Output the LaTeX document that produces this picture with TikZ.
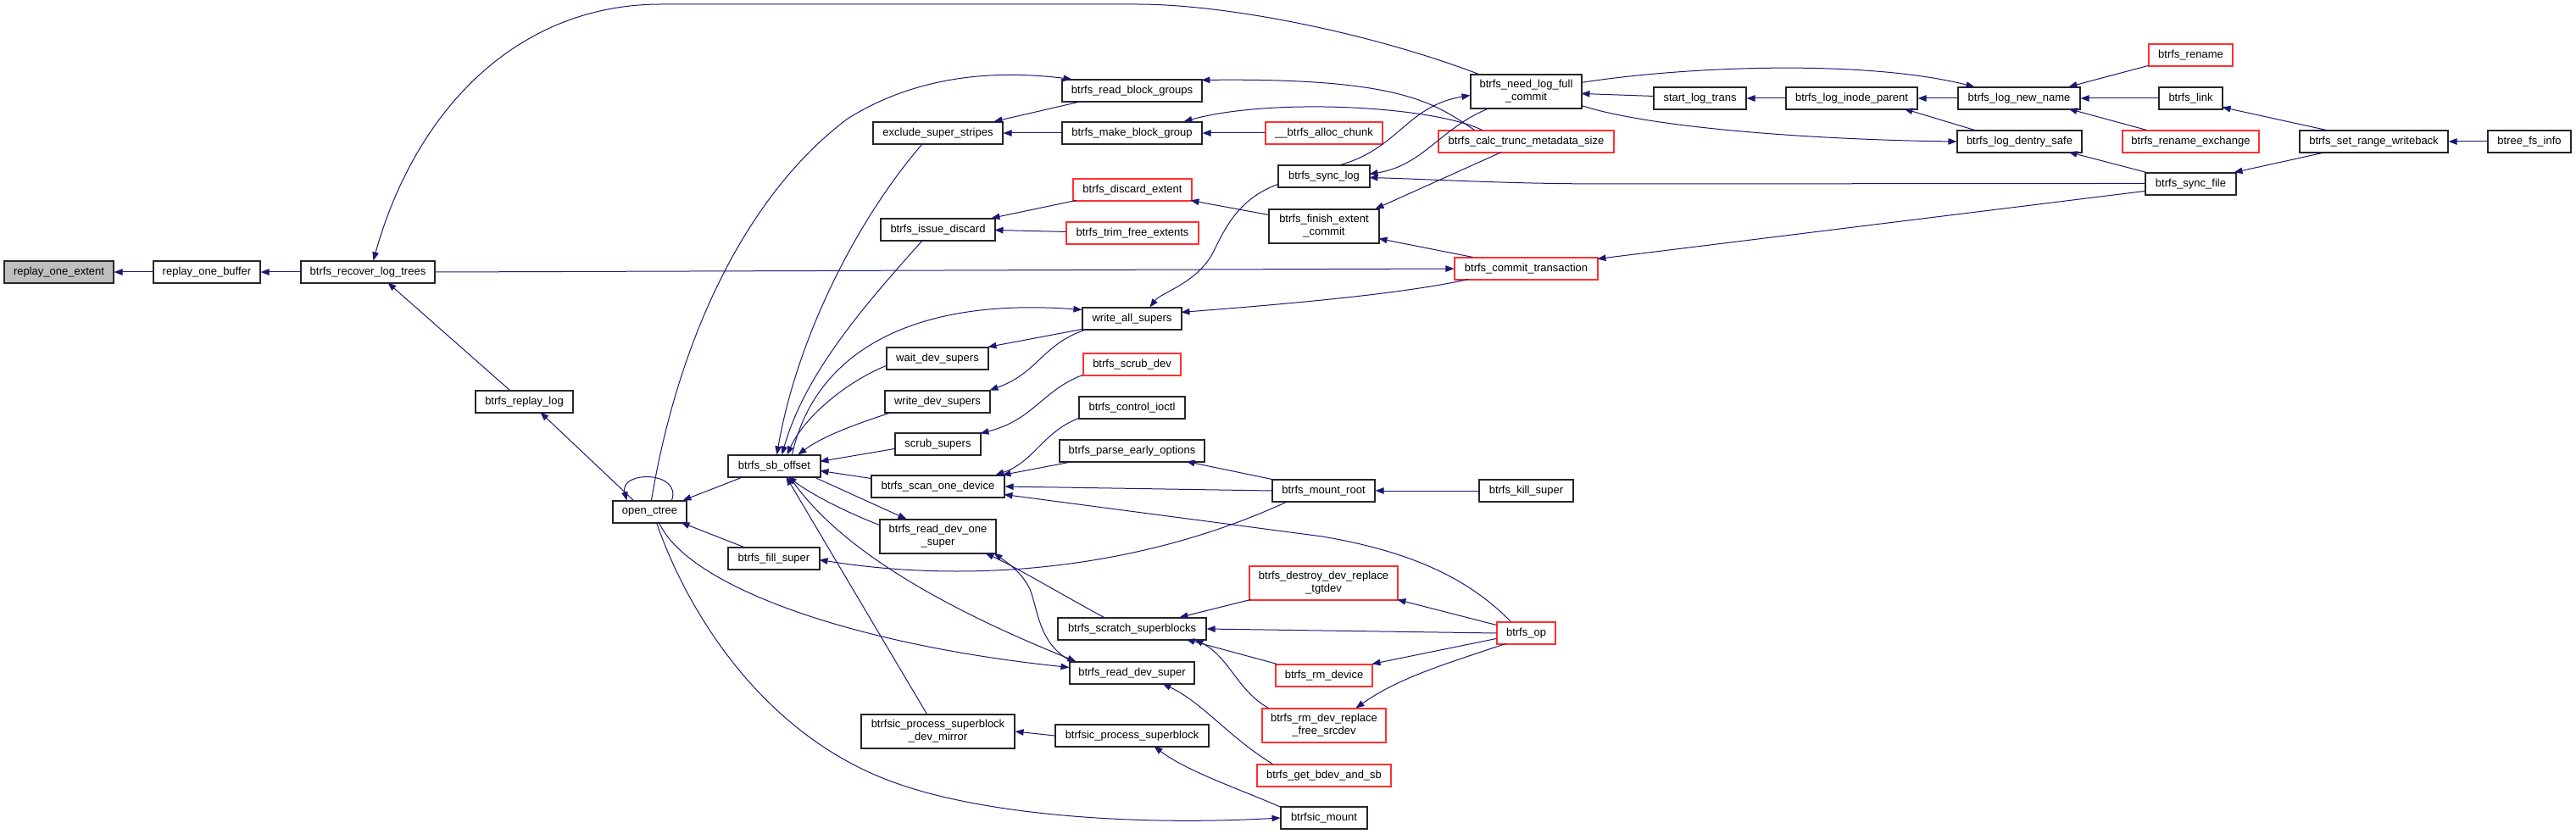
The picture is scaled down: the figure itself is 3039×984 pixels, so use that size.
\documentclass[tikz,border=0pt]{standalone}
\usepackage{fontspec}
\setmainfont{Liberation Sans}
\usetikzlibrary{arrows.meta}
\definecolor{edgec}{HTML}{191970}
\definecolor{redb}{HTML}{FF3030}
\definecolor{rootf}{HTML}{BFBFBF}
\tikzset{
 box/.style={draw=black!85, line width=1.1pt, fill=white, inner sep=0pt, align=center, font=\fontsize{13}{15}\selectfont},
 redbox/.style={draw=redb},
 rootbox/.style={fill=rootf},
 edge/.style={draw=edgec, line width=1pt, -{Triangle[length=10pt,width=7.5pt]}},
}
\newcommand\mkbox[7][]{\node[box,#1,minimum width=#5pt,minimum height=#6pt] (#2) at ({#3+#5/2},{#4+#6/2}) {#7};}
\begin{document}
\begin{tikzpicture}[x=1pt,y=-1pt]
\useasboundingbox (0,0) rectangle (3039,984);
% nodes
\mkbox[rootbox]{roe}{5}{308}{129}{26}{replay\_one\_extent}
\mkbox{rob}{181}{308}{126}{26}{replay\_one\_buffer}
\mkbox{rlt}{355}{308}{158}{26}{btrfs\_recover\_log\_trees}
\mkbox{rpl}{561}{461}{115}{26}{btrfs\_replay\_log}
\mkbox{oct}{723}{591}{87}{26}{open\_ctree}
\mkbox{sbo}{859}{537}{109}{26}{btrfs\_sb\_offset}
\mkbox{fsu}{859}{646}{108}{26}{btrfs\_fill\_super}
\mkbox{ess}{1030}{144}{153}{26}{exclude\_super\_stripes}
\mkbox{rbg}{1253}{94}{165}{26}{btrfs\_read\_block\_groups}
\mkbox{mbg}{1253}{144}{165}{26}{btrfs\_make\_block\_group}
\mkbox[redbox]{bac}{1493}{144}{138}{26}{\_\_btrfs\_alloc\_chunk}
\mkbox{isd}{1039}{258}{135}{26}{btrfs\_issue\_discard}
\mkbox[redbox]{dex}{1266}{211}{140}{26}{btrfs\_discard\_extent}
\mkbox[redbox]{tfe}{1258}{262}{156}{26}{btrfs\_trim\_free\_extents}
\mkbox{sbl}{1508}{195}{108}{26}{btrfs\_sync\_log}
\mkbox{fec}{1497}{247}{130}{40}{btrfs\_finish\_extent\\\_commit}
\mkbox{was}{1277}{363}{117}{26}{write\_all\_supers}
\mkbox{wds}{1046}{410}{120}{26}{wait\_dev\_supers}
\mkbox[redbox]{scd}{1278}{417}{115}{26}{btrfs\_scrub\_dev}
\mkbox{wrd}{1044}{461}{124}{26}{write\_dev\_supers}
\mkbox{cio}{1273}{468}{125}{26}{btrfs\_control\_ioctl}
\mkbox{ssu}{1056}{511}{101}{26}{scrub\_supers}
\mkbox{peo}{1250}{519}{171}{26}{btrfs\_parse\_early\_options}
\mkbox{sod}{1028}{561}{157}{26}{btrfs\_scan\_one\_device}
\mkbox{mnr}{1501}{566}{121}{26}{btrfs\_mount\_root}
\mkbox{ros}{1038}{613}{137}{40}{btrfs\_read\_dev\_one\\\_super}
\mkbox[redbox]{dtg}{1474}{668}{175}{40}{btrfs\_destroy\_dev\_replace\\\_tgtdev}
\mkbox{scs}{1248}{729}{175}{26}{btrfs\_scratch\_superblocks}
\mkbox{rds}{1262}{781}{147}{26}{btrfs\_read\_dev\_super}
\mkbox[redbox]{rmd}{1505}{784}{114}{26}{btrfs\_rm\_device}
\mkbox[redbox]{frs}{1489}{836}{146}{40}{btrfs\_rm\_dev\_replace\\\_free\_srcdev}
\mkbox{pdm}{1016}{843}{181}{40}{btrfsic\_process\_superblock\\\_dev\_mirror}
\mkbox{psb}{1245}{855}{181}{26}{btrfsic\_process\_superblock}
\mkbox[redbox]{gbs}{1483}{902}{158}{26}{btrfs\_get\_bdev\_and\_sb}
\mkbox{bmt}{1511}{952}{102}{26}{btrfsic\_mount}
\mkbox{nlf}{1735}{88}{131}{40}{btrfs\_need\_log\_full\\\_commit}
\mkbox{slt}{1951}{103}{109}{26}{start\_log\_trans}
\mkbox{lip}{2107}{103}{155}{26}{btrfs\_log\_inode\_parent}
\mkbox{lnn}{2310}{103}{144}{26}{btrfs\_log\_new\_name}
\mkbox[redbox]{ctm}{1697}{154}{207}{26}{btrfs\_calc\_trunc\_metadata\_size}
\mkbox{lds}{2309}{154}{147}{26}{btrfs\_log\_dentry\_safe}
\mkbox[redbox]{ctr}{1716}{304}{169}{26}{btrfs\_commit\_transaction}
\mkbox{kls}{1745}{566}{111}{26}{btrfs\_kill\_super}
\mkbox[redbox]{bop}{1766}{734}{69}{26}{btrfs\_op}
\mkbox[redbox]{ren}{2535}{52}{99}{26}{btrfs\_rename}
\mkbox{lnk}{2547}{103}{75}{26}{btrfs\_link}
\mkbox[redbox]{rex}{2504}{154}{161}{26}{btrfs\_rename\_exchange}
\mkbox{sfi}{2531}{204}{107}{26}{btrfs\_sync\_file}
\mkbox{srw}{2713}{154}{175}{26}{btrfs\_set\_range\_writeback}
\mkbox{bfi}{2935}{154}{98}{26}{btree\_fs\_info}
% edges
\draw[edge] (rob.west) -- (roe.east);
\draw[edge] (rlt.west) -- (rob.east);
\draw[edge] ([shift={(10,0)}]nlf.north west) .. controls (1620,40) and (1450,5) .. (1341,5) -- (780,5) .. controls (610,5) and (490,130) .. ([shift={(86,0)}]rlt.north west);
\draw[edge] (rlt.east) -- (ctr.west);
\draw[edge] ([shift={(41,0)}]rpl.north west) -- ([shift={(103,26)}]rlt.north west);
\draw[edge] ([shift={(25,0)}]oct.north west) -- ([shift={(77,26)}]rpl.north west);
\draw[edge] ([shift={(70,0)}]oct.north west) .. controls (805,555) and (730,555) .. ([shift={(17,0)}]oct.north west);
\draw[edge] ([shift={(46,0)}]oct.north west) .. controls (800,400) and (880,230) .. (1000,140) .. controls (1080,90) and (1170,82) .. ([shift={(12,0)}]rbg.north west);
\draw[edge] ([shift={(19,26)}]sbo.north west) -- ([shift={(83,0)}]oct.north west);
\draw[edge] ([shift={(19,0)}]fsu.north west) -- ([shift={(81,26)}]oct.north west);
\draw[edge] ([shift={(55,26)}]oct.north west) .. controls (810,690) and (1000,760) .. ([shift={(0,7)}]rds.north west);
\draw[edge] ([shift={(52,26)}]oct.north west) .. controls (810,720) and (900,870) .. (1060,925) .. controls (1160,960) and (1330,975) .. (bmt.west);
\draw[edge] ([shift={(59,26)}]ess.north west) .. controls (1010,260) and (940,400) .. ([shift={(58,0)}]sbo.north west);
\draw[edge] ([shift={(50,26)}]isd.north west) .. controls (1020,360) and (950,440) .. ([shift={(64,0)}]sbo.north west);
\draw[edge] ([shift={(0,22)}]wds.north west) .. controls (1000,450) and (950,490) .. ([shift={(70,0)}]sbo.north west);
\draw[edge] ([shift={(76,0)}]sbo.north west) .. controls (960,420) and (1070,350) .. ([shift={(0,3)}]was.north west);
\draw[edge] ([shift={(9,26)}]wrd.north west) .. controls (1010,500) and (970,515) .. ([shift={(83,0)}]sbo.north west);
\draw[edge] ([shift={(0,19)}]ssu.north west) -- ([shift={(109,8)}]sbo.north west);
\draw[edge] ([shift={(0,4)}]sod.north west) -- ([shift={(109,19)}]sbo.north west);
\draw[edge] ([shift={(101,26)}]sbo.north west) -- ([shift={(32,0)}]ros.north west);
\draw[edge] ([shift={(0,7)}]ros.north west) .. controls (1000,605) and (960,585) .. ([shift={(71,26)}]sbo.north west);
\draw[edge] ([shift={(73,26)}]sbo.north west) .. controls (990,650) and (1120,720) .. ([shift={(8,0)}]rds.north west);
\draw[edge] ([shift={(78,0)}]pdm.north west) -- ([shift={(69,26)}]sbo.north west);
\draw[edge] ([shift={(19,26)}]mnr.north west) .. controls (1350,670) and (1150,690) .. ([shift={(108,15)}]fsu.north west);
\draw[edge] ([shift={(17,26)}]ctr.north west) .. controls (1650,348) and (1500,360) .. ([shift={(117,6)}]was.north west);
\draw[edge] ([shift={(0,22)}]sfi.north west) -- ([shift={(169,2)}]ctr.north west);
\draw[edge] ([shift={(0,13)}]sfi.north west) -- (1900,217) .. controls (1780,217) and (1700,212) .. ([shift={(108,15)}]sbl.north west);
\draw[edge] ([shift={(23,40)}]nlf.north west) .. controls (1700,150) and (1680,195) .. ([shift={(108,11)}]sbl.north west);
\draw[edge] ([shift={(74,0)}]sbl.north west) .. controls (1650,175) and (1660,125) .. ([shift={(0,25)}]nlf.north west);
\draw[edge] ([shift={(43,0)}]ctm.north west) .. controls (1690,120) and (1650,92) .. ([shift={(165,1)}]rbg.north west);
\draw[edge] ([shift={(52,0)}]ctm.north west) .. controls (1690,125) and (1500,115) .. ([shift={(144,0)}]mbg.north west);
\draw[edge] ([shift={(75,26)}]ctm.north west) -- ([shift={(126,0)}]fec.north west);
\draw[edge] ([shift={(22,0)}]ctr.north west) -- ([shift={(130,35)}]fec.north west);
\draw[edge] ([shift={(0,7)}]fec.north west) -- ([shift={(139,26)}]dex.north west);
\draw[edge] ([shift={(4,26)}]dex.north west) -- ([shift={(131,0)}]isd.north west);
\draw[edge] ([shift={(0,12)}]tfe.north west) -- ([shift={(135,14)}]isd.north west);
\draw[edge] ([shift={(24,26)}]rbg.north west) -- ([shift={(143,0)}]ess.north west);
\draw[edge] (mbg.west) -- (ess.east);
\draw[edge] (bac.west) -- (mbg.east);
\draw[edge] ([shift={(0,23)}]sbl.north west) .. controls (1460,235) and (1445,270) .. (1430,300) .. controls (1410,335) and (1370,345) .. ([shift={(80,0)}]was.north west);
\draw[edge] ([shift={(0,26)}]was.north west) -- ([shift={(120,0)}]wds.north west);
\draw[edge] ([shift={(6,26)}]was.north west) .. controls (1230,405) and (1225,440) .. ([shift={(124,0)}]wrd.north west);
\draw[edge] ([shift={(0,26)}]scd.north west) .. controls (1230,460) and (1220,495) .. ([shift={(101,1)}]ssu.north west);
\draw[edge] ([shift={(0,26)}]cio.north west) .. controls (1230,510) and (1220,545) .. ([shift={(147,0)}]sod.north west);
\draw[edge] ([shift={(17,26)}]peo.north west) -- ([shift={(155,0)}]sod.north west);
\draw[edge] (mnr.north west) -- ([shift={(150,26)}]peo.north west);
\draw[edge] (mnr.west) -- (sod.east);
\draw[edge] ([shift={(17,0)}]bop.north west) .. controls (1730,680) and (1660,650) .. (1560,633) -- ([shift={(157,23)}]sod.north west);
\draw[edge] (kls.west) -- (mnr.east);
\draw[edge] ([shift={(55,0)}]scs.north west) .. controls (1250,700) and (1200,670) .. ([shift={(125,40)}]ros.north west);
\draw[edge] ([shift={(3,0)}]rds.north west) .. controls (1225,760) and (1225,720) .. (1215,695) .. controls (1205,675) and (1190,665) .. ([shift={(135,40)}]ros.north west);
\draw[edge] ([shift={(2,40)}]dtg.north west) -- ([shift={(144,0)}]scs.north west);
\draw[edge] (bop.west) -- (scs.east);
\draw[edge] ([shift={(2,0)}]rmd.north west) -- ([shift={(152,26)}]scs.north west);
\draw[edge] ([shift={(8,0)}]frs.north west) .. controls (1460,815) and (1450,775) .. ([shift={(162,26)}]scs.north west);
\draw[edge] ([shift={(0,4)}]bop.north west) -- ([shift={(175,40)}]dtg.north west);
\draw[edge] ([shift={(0,20)}]bop.north west) -- ([shift={(114,0)}]rmd.north west);
\draw[edge] ([shift={(11,26)}]bop.north west) .. controls (1700,785) and (1650,800) .. ([shift={(111,0)}]frs.north west);
\draw[edge] ([shift={(19,0)}]gbs.north west) .. controls (1450,870) and (1420,830) .. ([shift={(110,26)}]rds.north west);
\draw[edge] (psb.west) -- (pdm.east);
\draw[edge] ([shift={(1,1)}]bmt.north west) .. controls (1460,930) and (1400,910) .. ([shift={(117,26)}]psb.north west);
\draw[edge] ([shift={(0,11)}]slt.north west) -- ([shift={(131,23)}]nlf.north west);
\draw[edge] (lip.west) -- (slt.east);
\draw[edge] (lnn.west) -- (lip.east);
\draw[edge] ([shift={(21,0)}]lds.north west) -- ([shift={(140,26)}]lip.north west);
\draw[edge] ([shift={(131,10)}]nlf.north west) .. controls (1990,78) and (2200,70) .. ([shift={(20,0)}]lnn.north west);
\draw[edge] ([shift={(131,37)}]nlf.north west) .. controls (1950,152) and (2150,165) .. (lds.west);
\draw[edge] ([shift={(0,26)}]ren.north west) -- ([shift={(131,0)}]lnn.north west);
\draw[edge] (lnk.west) -- (lnn.east);
\draw[edge] ([shift={(29,0)}]rex.north west) -- ([shift={(131,26)}]lnn.north west);
\draw[edge] ([shift={(32,0)}]srw.north west) -- ([shift={(75,24)}]lnk.north west);
\draw[edge] ([shift={(32,26)}]srw.north west) -- ([shift={(105,0)}]sfi.north west);
\draw[edge] (bfi.west) -- (srw.east);
\draw[edge] ([shift={(2,0)}]sfi.north west) -- ([shift={(132,26)}]lds.north west);
\end{tikzpicture}
\end{document}
